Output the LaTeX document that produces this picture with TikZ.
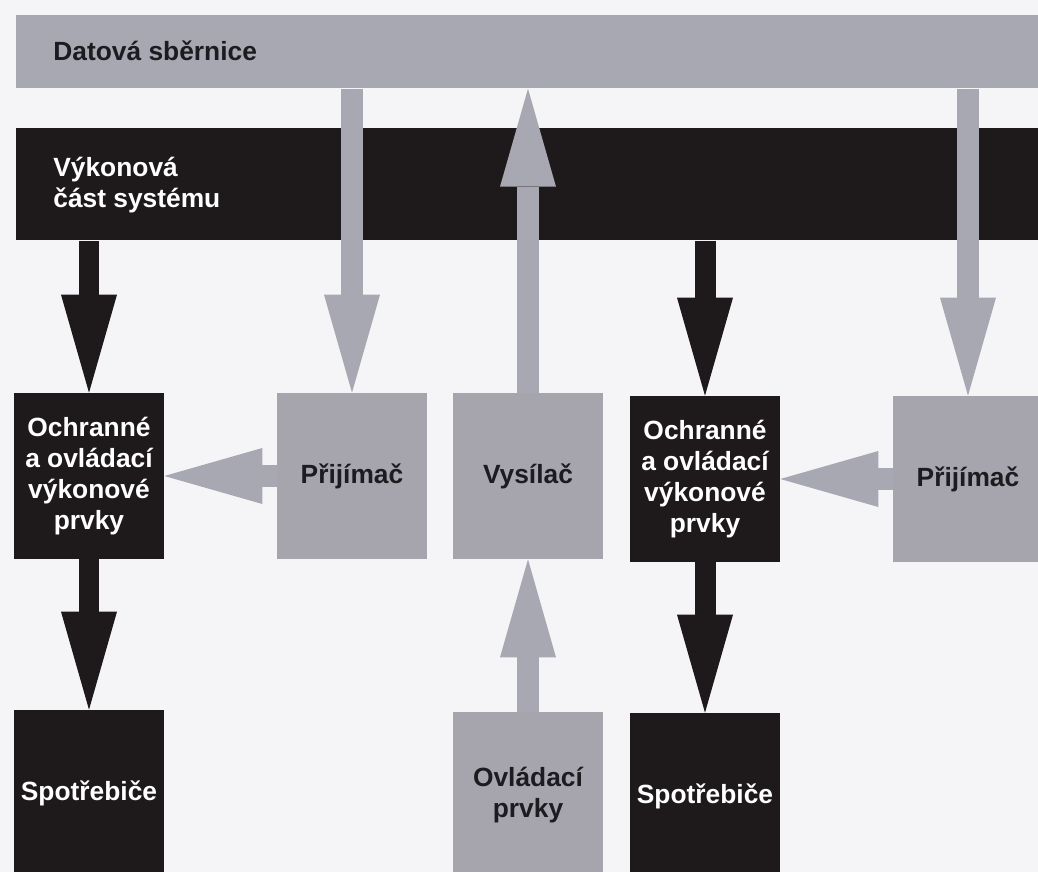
\documentclass[tikz,border=0pt]{standalone}
\usepackage{fontspec}
\setmainfont{Liberation Sans}
\usetikzlibrary{arrows.meta,positioning}

\definecolor{paper}{RGB}{245,245,247}
\definecolor{busgray}{RGB}{168,168,178}
\definecolor{boxgray}{RGB}{166,165,173}
\definecolor{pwrblack}{RGB}{30,26,27}
\definecolor{inkdark}{RGB}{28,27,32}

\tikzset{
  lbl/.style={font=\fontsize{15}{17.6}\selectfont\bfseries, inner sep=0pt},
  darkbox/.style={lbl, fill=pwrblack, text=white, align=center,
    minimum width=3cm, minimum height=3.32cm},
  greybox/.style={lbl, fill=boxgray, text=inkdark, align=center,
    minimum width=3cm, minimum height=3.32cm},
  bigtip/.style={-{Triangle[length=1.96cm,width=1.12cm,line width=0pt]}},
  pwrarrow/.style={bigtip, line width=0.42cm, draw=pwrblack, fill=pwrblack},
  datarrow/.style={bigtip, line width=0.44cm, draw=busgray, fill=busgray},
}

\begin{document}
\begin{tikzpicture}[x=0.02cm,y=-0.02cm]
\useasboundingbox (0,0) rectangle (1038,872);
\clip (0,0) rectangle (1038,872);
\fill[paper] (0,0) rectangle (1038,872);

% buses
\node[fill=busgray, inner sep=0pt, minimum width=20.88cm, minimum height=1.46cm,
  anchor=north west] (dbus) at (16,15) {};
\node[fill=pwrblack, inner sep=0pt, minimum width=20.88cm, minimum height=2.24cm,
  anchor=north west] (pbus) at (16,128) {};
\node[lbl, text=inkdark, anchor=base west] (dbuslbl) at (53,60) {Datová sběrnice};
\node[lbl, text=white, align=left, anchor=west] (pbuslbl) at (53,185) {Výkonová\\část systému};

% blocks
\node[darkbox] (och1) at (89,476) {Ochranné\\a ovládací\\výkonové\\prvky};
\node[greybox] (prij1) at (352,476) {Přijímač};
\node[greybox] (vys) at (528,476) {Vysílač};
\node[darkbox] (och2) at (705,479) {Ochranné\\a ovládací\\výkonové\\prvky};
\node[greybox] (prij2) at (968,479) {Přijímač};
\node[darkbox] (spot1) at (89,793) {Spotřebiče};
\node[greybox] (ovl) at (528,795) {Ovládací\\prvky};
\node[darkbox] (spot2) at (705,796) {Spotřebiče};

% data paths
\draw[datarrow] (prij1.north |- dbus.south) -- (prij1.north);
\draw[datarrow] (prij2.north |- dbus.south) -- (prij2.north);
\draw[datarrow] (vys.north) -- (vys.north |- dbus.south);
\draw[datarrow] (ovl.north) -- (vys.south);
\draw[datarrow] (prij1.west) -- (och1.east);
\draw[datarrow] (prij2.west) -- (och2.east);

% power paths
\draw[pwrarrow] (och1.north |- pbus.south) -- (och1.north);
\draw[pwrarrow] (och2.north |- pbus.south) -- (och2.north);
\draw[pwrarrow] (och1.south) -- (spot1.north);
\draw[pwrarrow] (och2.south) -- (spot2.north);
\end{tikzpicture}
\end{document}
